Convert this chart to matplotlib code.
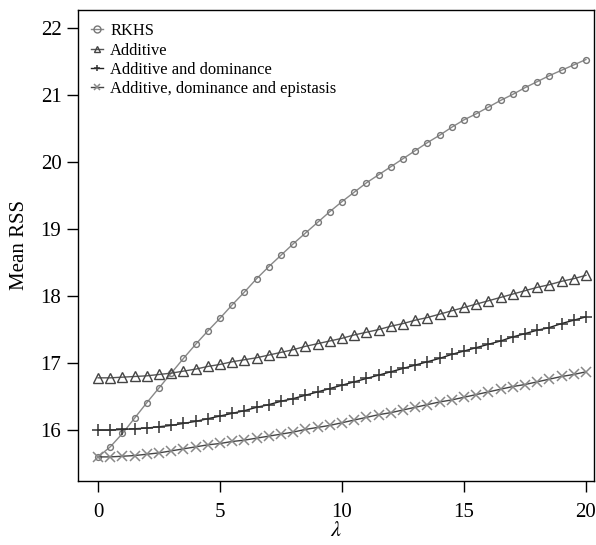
import matplotlib
matplotlib.use("Agg")
import matplotlib.pyplot as plt
import numpy as np

lam = [i * 0.5 for i in range(41)]

rkhs = [15.60, 15.75, 15.95, 16.18, 16.41, 16.63, 16.85, 17.07, 17.28, 17.48,
        17.67, 17.87, 18.06, 18.26, 18.44, 18.61, 18.78, 18.94, 19.10, 19.26,
        19.41, 19.55, 19.69, 19.81, 19.93, 20.05, 20.17, 20.29, 20.40, 20.52,
        20.63, 20.72, 20.82, 20.92, 21.01, 21.11, 21.20, 21.29, 21.37, 21.45, 21.53]

additive = [16.78, 16.78, 16.79, 16.80, 16.81, 16.83, 16.85, 16.88, 16.91, 16.95,
            16.98, 17.02, 17.05, 17.08, 17.12, 17.16, 17.20, 17.25, 17.29, 17.33,
            17.37, 17.42, 17.46, 17.50, 17.55, 17.59, 17.64, 17.68, 17.73, 17.78,
            17.83, 17.88, 17.93, 17.98, 18.03, 18.08, 18.13, 18.17, 18.22, 18.26, 18.31]

add_dom = [16.00, 16.00, 16.01, 16.02, 16.03, 16.05, 16.07, 16.10, 16.13, 16.17,
           16.21, 16.25, 16.29, 16.34, 16.38, 16.43, 16.47, 16.52, 16.57, 16.62,
           16.67, 16.72, 16.77, 16.82, 16.87, 16.92, 16.97, 17.02, 17.07, 17.13,
           17.18, 17.23, 17.28, 17.33, 17.39, 17.44, 17.49, 17.53, 17.59, 17.64, 17.69]

add_dom_epi = [15.60, 15.60, 15.61, 15.62, 15.64, 15.66, 15.69, 15.72, 15.75, 15.78,
               15.80, 15.83, 15.85, 15.88, 15.91, 15.94, 15.97, 16.01, 16.04, 16.07,
               16.11, 16.15, 16.19, 16.23, 16.26, 16.30, 16.34, 16.38, 16.42, 16.45,
               16.49, 16.53, 16.57, 16.61, 16.65, 16.68, 16.72, 16.76, 16.80, 16.83, 16.87]

labels = ["RKHS", "Additive", "Additive and dominance", "Additive, dominance and epistasis"]
xticks = [0, 5, 10, 15, 20]
yticks = [16, 17, 18, 19, 20, 21, 22]

plt.rcParams['font.family'] = ['Liberation Serif', 'DejaVu Serif']
plt.rcParams['mathtext.fontset'] = 'stix'

fig = plt.figure(figsize=(5.96, 5.45), dpi=100)
ax = fig.add_axes([0.131, 0.1174, 0.8656, 0.8643])

ax.plot(lam, rkhs, color='#888888', lw=1.0, marker='o', ms=4.2, mfc='none',
        mec='#777777', mew=1.0, label=labels[0])
ax.plot(lam, additive, color='#555555', lw=1.0, marker='^', ms=6.5, mfc='none',
        mec='#444444', mew=1.0, label=labels[1])
ax.plot(lam, add_dom, color='#222222', lw=1.0, marker='+', ms=9, mec='#333333',
        mew=1.1, label=labels[2])
ax.plot(lam, add_dom_epi, color='#444444', lw=1.0, marker='x', ms=6.5, mec='#888888',
        mew=1.1, label=labels[3])

ax.set_xlim(-0.82, 20.33)
ax.set_ylim(15.24, 22.27)
ax.set_xticks(xticks)
ax.set_yticks(yticks)
ax.tick_params(direction='out', length=8, width=1, labelsize=15, pad=4)
ax.tick_params(axis='x', pad=8)
for s in ax.spines.values():
    s.set_linewidth(1.0)

ax.set_xlabel(r'$\lambda$', fontsize=16, labelpad=0)
ax.set_ylabel('Mean RSS', fontsize=15, labelpad=8)

leg = ax.legend(loc='upper left', frameon=False, fontsize=11.9, handlelength=0.7,
                handletextpad=0.45, labelspacing=0.2, borderaxespad=0.4,
                bbox_to_anchor=(0.0, 1.0))
for h in leg.legend_handles:
    h.set_markersize(5)

fig.savefig('out.png', dpi=100)
